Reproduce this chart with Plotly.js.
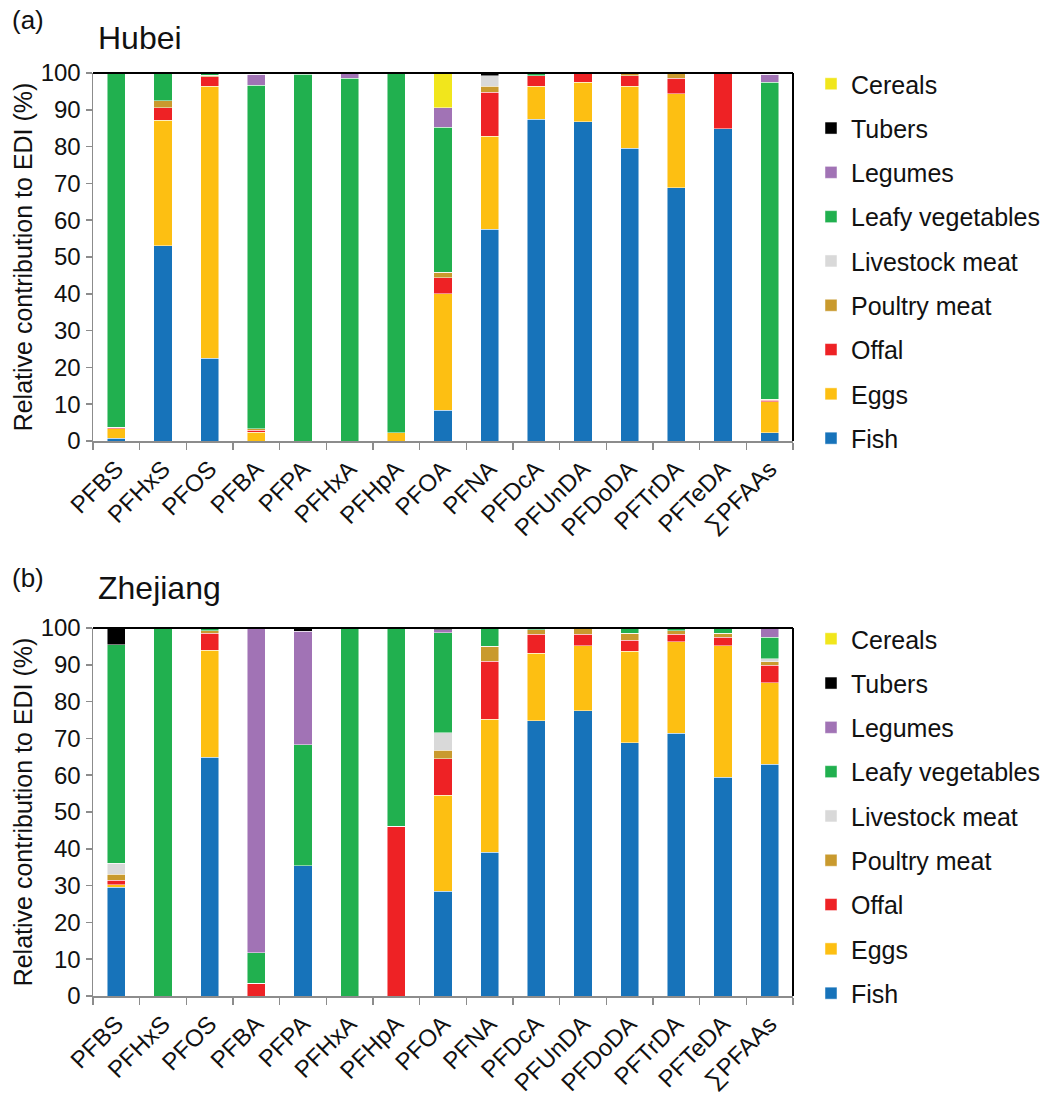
<!DOCTYPE html>
<html><head><meta charset="utf-8">
<script src="https://cdn.plot.ly/plotly-3.0.1.min.js"></script>
<style>html,body{margin:0;padding:0;background:#fff}</style>
</head><body>
<div id="chart" style="width:1052px;height:1097px"></div>
<script>
const categories = ["PFBS","PFHxS","PFOS","PFBA","PFPA","PFHxA","PFHpA","PFOA","PFNA","PFDcA","PFUnDA","PFDoDA","PFTrDA","PFTeDA","\u2211PFAAs"];
const foods = ["Fish","Eggs","Offal","Poultry meat","Livestock meat","Leafy vegetables","Legumes","Tubers","Cereals"];
const colors = ["#1773BA","#FDBF12","#EE2225","#C99A2E","#D9D9D9","#21B04F","#A173B5","#000000","#F1E61C"];

// Hubei (a)
const hubeiFish      = [0.7,53.1,22.5,0,0,0,0,8.3,57.6,87.5,86.8,79.5,68.8,84.9,2.3];
const hubeiEggs      = [2.6,34.1,73.9,2.4,0,0,2.2,31.7,25.2,8.9,10.7,16.9,25.6,0,8.3];
const hubeiOffal     = [0.4,3.4,2.6,0.5,0,0,0,4.3,12.0,2.9,2.3,2.9,4.2,15.1,0.5];
const hubeiPoultry   = [0,1.8,0.4,0.4,0,0,0,1.5,1.6,0,0.2,0.7,1.4,0,0.3];
const hubeiLivestock = [0,0,0,0,0,0,0,0,2.8,0,0,0,0,0,0];
const hubeiLeafy     = [96.1,7.6,0.6,93.4,99.6,98.6,97.8,39.4,0,0.7,0,0,0,0,86.1];
const hubeiLegumes   = [0.2,0,0,2.9,0.4,1.4,0,5.4,0,0,0,0,0,0,2.1];
const hubeiTubers    = [0,0,0,0,0,0,0,0,0.8,0,0,0,0,0,0];
const hubeiCereals   = [0,0,0,0.4,0,0,0,9.4,0,0,0,0,0,0,0.4];

// Zhejiang (b)
const zjFish      = [29.6,0,64.9,0,35.4,0,0,28.4,39.1,74.8,77.5,68.8,71.4,59.5,63.0];
const zjEggs      = [0.7,0,29.1,0,0,0,0,26.1,36.1,18.4,17.7,24.9,24.9,35.7,22.1];
const zjOffal     = [1.1,0,4.6,3.5,0,0,46.1,10.0,15.7,5.1,3.1,3.0,2.0,2.3,4.8];
const zjPoultry   = [1.7,0,0.6,0,0,0,0,2.3,4.2,1.2,1.5,1.9,1.0,1.1,0.9];
const zjLivestock = [3.0,0,0,0,0,0,0,4.7,0,0,0,0,0,0,0.9];
const zjLeafy     = [59.4,100,0.8,8.2,32.9,100,53.9,27.2,4.9,0.5,0.2,1.4,0.7,1.4,5.8];
const zjLegumes   = [0,0,0,88.3,30.8,0,0,0.8,0,0,0,0,0,0,2.3];
const zjTubers    = [4.5,0,0,0,0.9,0,0,0.5,0,0,0,0,0,0,0.2];
const zjCereals   = [0,0,0,0,0,0,0,0,0,0,0,0,0,0,0];

const hubei = [hubeiFish,hubeiEggs,hubeiOffal,hubeiPoultry,hubeiLivestock,hubeiLeafy,hubeiLegumes,hubeiTubers,hubeiCereals];
const zj = [zjFish,zjEggs,zjOffal,zjPoultry,zjLivestock,zjLeafy,zjLegumes,zjTubers,zjCereals];

const W = 1052, H = 1097;
const FONT = "Liberation Sans, Arial, sans-serif";
const traces = [];
function addSet(data, xa, ya, lg, pre){
  foods.forEach((f,i)=>{
    traces.push({type:'bar', x:categories, y:data[i], name:f, xaxis:xa, yaxis:ya,
      marker:{color:colors[i], line:{color:'rgba(255,255,255,0.6)', width:0.8}},
      legend:lg, legendgroup:pre+i, legendrank:100-i, hoverinfo:'name+y'});
  });
}
addSet(hubei,'x','y','legend','a');
addSet(zj,'x2','y2','legend2','b');

const px = v => v / W;
const py = v => 1 - v / H;
const xDom = [px(93), px(793)];

function xax(anchor){
  return {domain:xDom, anchor:anchor, range:[-0.5,14.5], type:'category',
    showline:true, linecolor:'#8c8c8c', linewidth:1.5, ticks:'outside', tickson:'boundaries',
    ticklen:7, tickcolor:'#8c8c8c', tickwidth:1.5, tickangle:-45, ticklabelstandoff:3,
    tickfont:{family:FONT, size:24, color:'#111'}, showgrid:false, zeroline:false, fixedrange:true};
}
function yax(anchor, dom){
  return {domain:dom, anchor:anchor, range:[0,100], dtick:10, showline:true, linecolor:'#8c8c8c', linewidth:1.5,
    ticks:'outside', ticklen:6, tickcolor:'#8c8c8c', tickwidth:1.5,
    tickfont:{family:FONT, size:24, color:'#111'}, showgrid:false, zeroline:false, fixedrange:true,
    title:{text:'Relative contribution to EDI (%)', font:{family:FONT, size:25, color:'#111'}, standoff:1}};
}
function legendAt(top){
  return {x:px(811), xanchor:'left', y:py(top), yanchor:'top', traceorder:'grouped',
    tracegroupgap:8.8, font:{family:FONT, size:25, color:'#111'}, bgcolor:'rgba(0,0,0,0)',
    itemwidth:30, itemclick:false, itemdoubleclick:false};
}
function frame(xr, yr){
  return [
    {type:'line', xref:xr+' domain', yref:yr+' domain', x0:0, x1:1, y0:1, y1:1, line:{color:'#000', width:2}},
    {type:'line', xref:xr+' domain', yref:yr+' domain', x0:1, x1:1, y0:0, y1:1, line:{color:'#000', width:2}}
  ];
}
const layout = {
  width:W, height:H, margin:{l:0,r:0,t:0,b:0}, paper_bgcolor:'#fff', plot_bgcolor:'#fff',
  barmode:'stack', bargap:0.61, showlegend:true,
  xaxis:xax('y'), yaxis:yax('x',[py(441), py(73)]),
  xaxis2:xax('y2'), yaxis2:yax('x2',[py(996), py(628)]),
  legend:legendAt(61), legend2:legendAt(616),
  shapes:[...frame('x','y'), ...frame('x2','y2')],
  annotations:[
    {text:'(a)', xref:'paper', yref:'paper', x:px(10), y:py(20), xanchor:'left', yanchor:'middle', showarrow:false, font:{family:FONT, size:26, color:'#111'}},
    {text:'Hubei', xref:'paper', yref:'paper', x:px(96), y:py(38), xanchor:'left', yanchor:'middle', showarrow:false, font:{family:FONT, size:32, color:'#111'}},
    {text:'(b)', xref:'paper', yref:'paper', x:px(10), y:py(578), xanchor:'left', yanchor:'middle', showarrow:false, font:{family:FONT, size:26, color:'#111'}},
    {text:'Zhejiang', xref:'paper', yref:'paper', x:px(96), y:py(588), xanchor:'left', yanchor:'middle', showarrow:false, font:{family:FONT, size:32, color:'#111'}}
  ]
};
Plotly.newPlot('chart', traces, layout, {displayModeBar:false, staticPlot:true});
</script>
</body></html>
